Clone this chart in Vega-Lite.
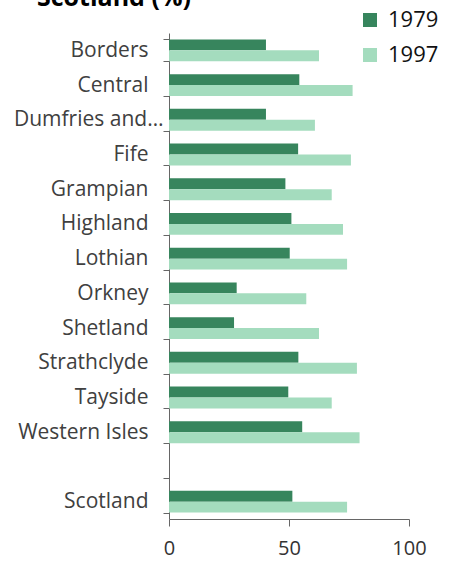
{
  "$schema": "https://vega.github.io/schema/vega-lite/v6.json",
  "width": 240,
  "height": 486,
  "autosize": {"type": "none"},
  "padding": {"left": 169, "top": 33, "right": 43, "bottom": 42},
  "config": {"font": "Open Sans", "view": {"stroke": null}},
  "title": {"text": "Scotland (%)", "anchor": "start", "frame": "group", "fontSize": 25, "fontWeight": "bold", "color": "#000000", "baseline": "alphabetic", "offset": 0, "dx": -132, "dy": 22},
  "data": {"values": [
    {"region": "Borders", "year": "1979", "value": 40.4},
    {"region": "Borders", "year": "1997", "value": 62.5},
    {"region": "Central", "year": "1979", "value": 54.3},
    {"region": "Central", "year": "1997", "value": 76.5},
    {"region": "Dumfries and Galloway", "year": "1979", "value": 40.4},
    {"region": "Dumfries and Galloway", "year": "1997", "value": 60.8},
    {"region": "Fife", "year": "1979", "value": 53.8},
    {"region": "Fife", "year": "1997", "value": 75.8},
    {"region": "Grampian", "year": "1979", "value": 48.5},
    {"region": "Grampian", "year": "1997", "value": 67.8},
    {"region": "Highland", "year": "1979", "value": 51.0},
    {"region": "Highland", "year": "1997", "value": 72.5},
    {"region": "Lothian", "year": "1979", "value": 50.3},
    {"region": "Lothian", "year": "1997", "value": 74.2},
    {"region": "Orkney", "year": "1979", "value": 28.2},
    {"region": "Orkney", "year": "1997", "value": 57.2},
    {"region": "Shetland", "year": "1979", "value": 27.1},
    {"region": "Shetland", "year": "1997", "value": 62.5},
    {"region": "Strathclyde", "year": "1979", "value": 53.9},
    {"region": "Strathclyde", "year": "1997", "value": 78.3},
    {"region": "Tayside", "year": "1979", "value": 49.7},
    {"region": "Tayside", "year": "1997", "value": 67.8},
    {"region": "Western Isles", "year": "1979", "value": 55.5},
    {"region": "Western Isles", "year": "1997", "value": 79.4},
    {"region": "Scotland", "year": "1979", "value": 51.4},
    {"region": "Scotland", "year": "1997", "value": 74.2}
  ]},
  "mark": {"type": "bar"},
  "encoding": {
    "y": {
      "field": "region", "type": "nominal",
      "scale": {"domain": ["Borders", "Central", "Dumfries and Galloway", "Fife", "Grampian", "Highland", "Lothian", "Orkney", "Shetland", "Strathclyde", "Tayside", "Western Isles", " ", "Scotland"], "paddingInner": 0.37, "paddingOuter": 0.185},
      "axis": {"title": null, "tickBand": "extent", "tickSize": 6, "labelPadding": {"condition": {"test": "datum.value === 'Dumfries and Galloway'", "value": 0}, "value": 15}, "labelFontSize": 21, "labelColor": "#404040", "labelLimit": 150, "domainColor": "#666666", "tickColor": "#666666"}
    },
    "yOffset": {"field": "year", "type": "nominal"},
    "x": {
      "field": "value", "type": "quantitative",
      "scale": {"domain": [0, 100]},
      "axis": {"title": null, "values": [0, 50, 100], "grid": false, "labelFlush": false, "tickSize": 7, "labelPadding": 12, "labelFontSize": 20, "labelColor": "#333333", "domainColor": "#666666", "tickColor": "#666666"}
    },
    "color": {
      "field": "year", "type": "nominal",
      "scale": {"domain": ["1979", "1997"], "range": ["#37855d", "#a4dcbe"]},
      "legend": {"title": null, "orient": "none", "legendX": 190, "legendY": -24, "symbolType": "square", "symbolSize": 196, "symbolStrokeWidth": 0, "labelFontSize": 22, "labelColor": "#111111", "rowPadding": 13, "labelOffset": 7}
    }
  }
}
